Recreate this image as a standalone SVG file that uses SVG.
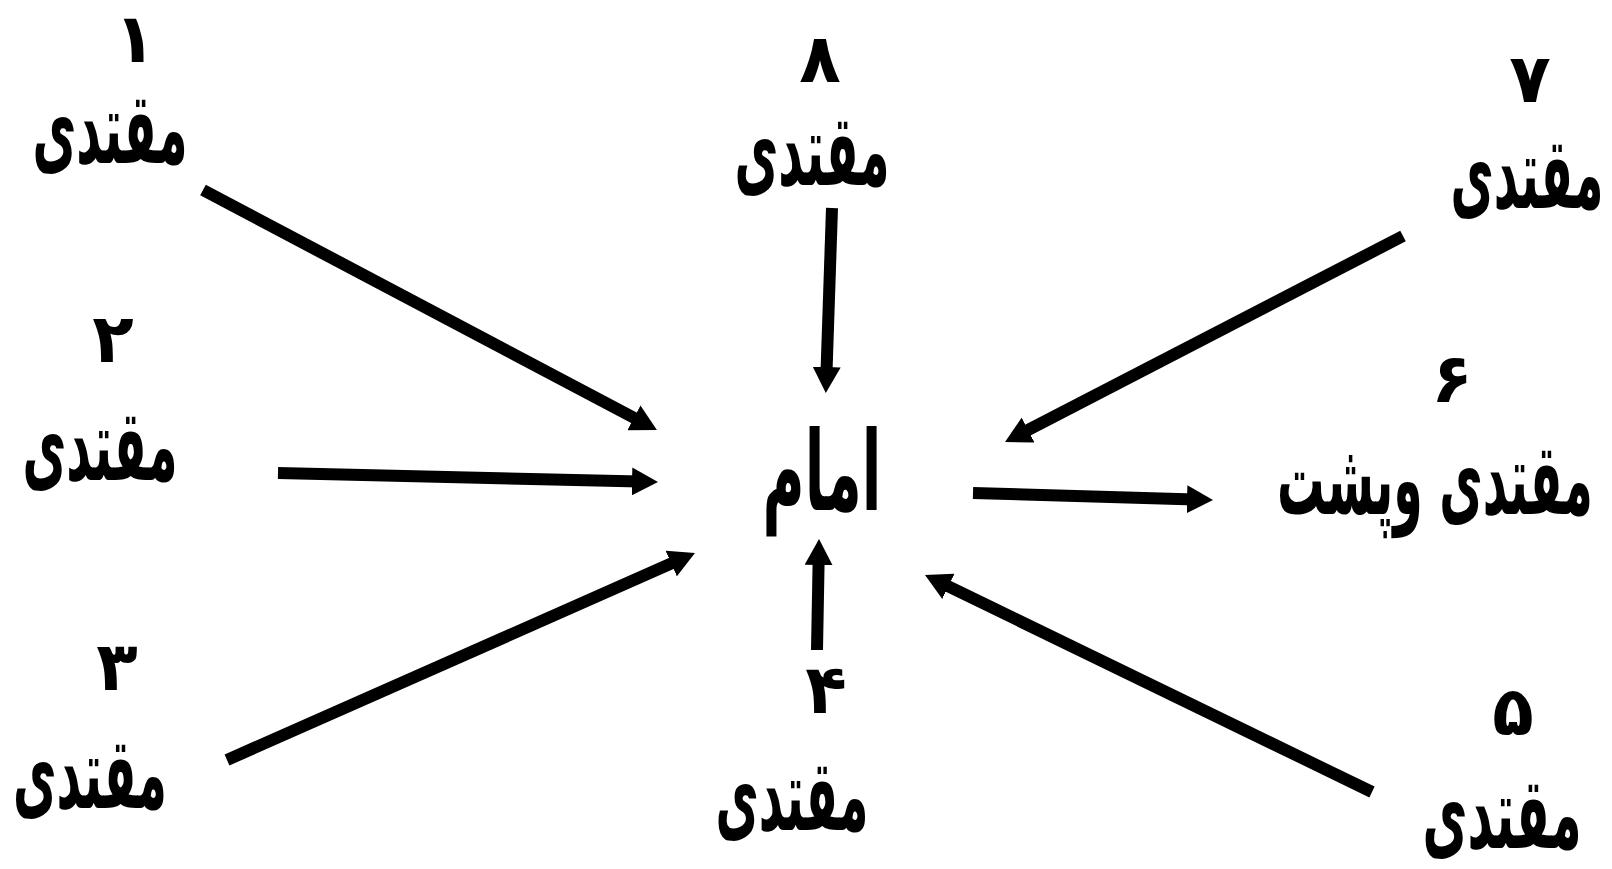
<svg xmlns="http://www.w3.org/2000/svg" width="1612" height="869" viewBox="0 0 1612 869">
<style>
.t{font-family:"DejaVu Sans","Noto Sans",sans-serif;font-weight:bold;fill:#000;text-anchor:middle}
.lbl{font-size:100px}
.num{font-size:68px}
.imam{font-size:110px}
.c{stroke:#000;stroke-width:12;fill:none;marker-end:url(#ah)}
</style>
<defs>
<marker id="ah" markerWidth="26" markerHeight="28" refX="8" refY="14" orient="auto" markerUnits="userSpaceOnUse">
<path d="M0,0 L26,14 L0,28 Z" fill="#000"/>
</marker>
</defs>
<rect width="1612" height="869" fill="#fff"/>
<g id="connectors">
<line class="c" x1="203" y1="190" x2="641" y2="421.5"/>
<line class="c" x1="278" y1="473" x2="640" y2="481.6"/>
<line class="c" x1="227" y1="760" x2="678.5" y2="560.3"/>
<line class="c" x1="832" y1="208" x2="826.4" y2="375"/>
<line class="c" x1="817" y1="650" x2="818.7" y2="557"/>
<line class="c" x1="1403" y1="236" x2="1021" y2="433.7"/>
<line class="c" x1="973" y1="493" x2="1195" y2="499.5"/>
<line class="c" x1="1372" y1="792" x2="941.2" y2="582.9"/>
</g>
<g id="n1"><text class="t num" x="135" y="62">۱</text><text class="t lbl" transform="translate(110,163) scale(0.5,1)" textLength="310" lengthAdjust="spacingAndGlyphs">مقتدی</text></g>
<g id="n2"><text class="t num" x="113" y="362">۲</text><text class="t lbl" transform="translate(100,480) scale(0.5,1)" textLength="310" lengthAdjust="spacingAndGlyphs">مقتدی</text></g>
<g id="n3"><text class="t num" x="117" y="690">۳</text><text class="t lbl" transform="translate(90,808) scale(0.5,1)" textLength="308" lengthAdjust="spacingAndGlyphs">مقتدی</text></g>
<g id="n8"><text class="t num" x="820" y="82">۸</text><text class="t lbl" transform="translate(812,185) scale(0.5,1)" textLength="310" lengthAdjust="spacingAndGlyphs">مقتدی</text></g>
<g id="imam"><text class="t imam" transform="translate(822,510) scale(0.54,1)" textLength="220" lengthAdjust="spacingAndGlyphs">امام</text></g>
<g id="n4"><text class="t num" x="826" y="713">۴</text><text class="t lbl" transform="translate(792,830) scale(0.5,1)" textLength="306" lengthAdjust="spacingAndGlyphs">مقتدی</text></g>
<g id="n7"><text class="t num" x="1530" y="102">۷</text><text class="t lbl" transform="translate(1527,208) scale(0.5,1)" textLength="306" lengthAdjust="spacingAndGlyphs">مقتدی</text></g>
<g id="n6"><text class="t num" x="1452" y="402">۶</text><text class="t lbl" transform="translate(1435,514) scale(0.47,1)" textLength="672" lengthAdjust="spacingAndGlyphs">مقتدی وپشت</text></g>
<g id="n5"><text class="t num" x="1513" y="735">۵</text><text class="t lbl" transform="translate(1502,848) scale(0.5,1)" textLength="318" lengthAdjust="spacingAndGlyphs">مقتدی</text></g>
</svg>
